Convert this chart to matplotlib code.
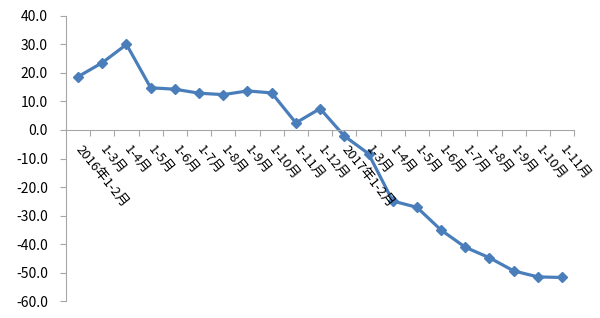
import matplotlib
matplotlib.use("Agg")
import matplotlib.pyplot as plt
from matplotlib.ticker import FixedLocator, FormatStrFormatter

plt.rcParams["font.family"] = ["Noto Sans CJK SC", "DejaVu Sans"]
plt.rcParams["axes.unicode_minus"] = False

# 月份类别
labels = ["2016年1-2月", "1-3月", "1-4月", "1-5月", "1-6月", "1-7月", "1-8月",
          "1-9月", "1-10月", "1-11月", "1-12月",
          "2017年1-2月", "1-3月", "1-4月", "1-5月", "1-6月", "1-7月", "1-8月",
          "1-9月", "1-10月", "1-11月"]

# 累计同比增速 (%)
values = [18.7, 23.6, 30.0, 14.8, 14.3, 12.9, 12.4, 13.7, 13.0, 2.5, 7.5,
          -2.1, -8.3, -24.9, -27.1, -35.1, -41.1, -44.8, -49.4, -51.5, -51.7]

y_ticks = [40, 30, 20, 10, 0, -10, -20, -30, -40, -50, -60]

fig = plt.figure(figsize=(6, 3.18), dpi=100)
ax = fig.add_axes([0.11, 0.053, 0.847, 0.897])

x = list(range(len(values)))
ax.plot(x, values, color="#4a7ebb", linewidth=2.3, marker="D",
        markersize=5.5, markerfacecolor="#4a7ebb", markeredgecolor="#4a7ebb")

ax.set_xlim(-0.5, len(values) - 0.5)
ax.set_ylim(-60, 40)

# 坐标轴样式
for side in ["top", "right"]:
    ax.spines[side].set_visible(False)
ax.spines["bottom"].set_position(("data", 0))
ax.spines["bottom"].set_color("#a6a6a6")
ax.spines["left"].set_color("#a6a6a6")

ax.yaxis.set_major_locator(FixedLocator(y_ticks))
ax.yaxis.set_major_formatter(FormatStrFormatter("%.1f"))
ax.tick_params(axis="y", direction="out", length=4, color="#a6a6a6",
               labelsize=10, pad=9)

# x 轴刻度在类别之间
ax.set_xticks([i - 0.5 for i in range(1, len(values) + 1)])
ax.set_xticklabels([])
ax.tick_params(axis="x", direction="out", length=4, color="#a6a6a6")

for i, lab in enumerate(labels):
    ax.annotate(lab, xy=(i, 0), xytext=(0, -12), textcoords="offset points",
                rotation=-51, rotation_mode="anchor", ha="left", va="center",
                fontsize=9.5)

fig.savefig("out.png", dpi=100)
